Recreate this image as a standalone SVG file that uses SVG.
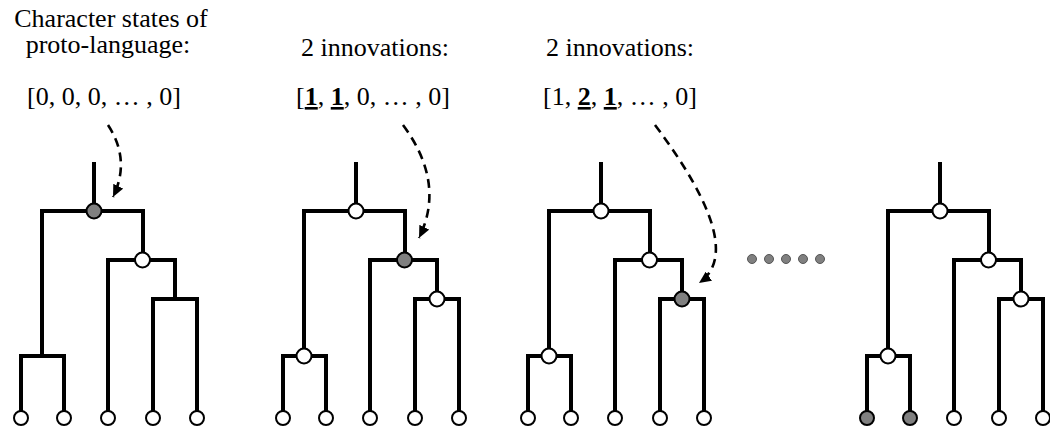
<svg xmlns="http://www.w3.org/2000/svg" width="1050" height="427" viewBox="0 0 1050 427">
<style>
text{font-family:"Liberation Serif","Times New Roman",serif;font-size:26px;fill:#000;text-anchor:middle}
.b{font-weight:bold;text-decoration:underline}
.e{fill:none;stroke:#000;stroke-width:4;stroke-linejoin:miter;stroke-linecap:butt}
.w{fill:#fff;stroke:#000;stroke-width:2}
.g{fill:#808080;stroke:#000;stroke-width:2}
.d{fill:#808080;stroke:#555;stroke-width:1}
.arr{fill:none;stroke:#000;stroke-width:2.6;stroke-dasharray:9 6}
</style>
<defs>
<marker id="ah" markerUnits="userSpaceOnUse" markerWidth="13" markerHeight="11" refX="12" refY="5.5" orient="auto">
<path d="M0,0 L12,5.5 L0,11 z" fill="#000"/>
</marker>
<path id="edges" d="M94,162 V211 M42,356 V211 H143 V260 M21,411 V356 H64 V411 M108,411 V260 H175 V299 M153,411 V299 H197 V411"/>
</defs>
<g id="labels">
<text x="111" y="27">Character states of</text>
<text x="108" y="53">proto-language:</text>
<text x="104" y="105">[0, 0, 0, … , 0]</text>
<text x="375" y="56">2 innovations:</text>
<text x="373" y="105">[<tspan class="b">1</tspan>, <tspan class="b">1</tspan>, 0, … , 0]</text>
<text x="620" y="56">2 innovations:</text>
<text x="620" y="105">[1, <tspan class="b">2</tspan>, <tspan class="b">1</tspan>, … , 0]</text>
</g>
<g id="connectors">
<use href="#edges" class="e"/>
<use href="#edges" class="e" transform="translate(262,0)"/>
<use href="#edges" class="e" transform="translate(507,0)"/>
<use href="#edges" class="e" transform="translate(846,0)"/>
<path class="arr" d="M108,125 Q131,160 113,197" marker-end="url(#ah)"/>
<path class="arr" d="M403,125 Q446,183 419,238" marker-end="url(#ah)"/>
<path class="arr" d="M655,125 Q748,249 699,283" marker-end="url(#ah)"/>
</g>
<g id="tree1">
<g id="t1-root"><circle class="g" cx="94" cy="211" r="7.5"/></g>
<g id="t1-n2"><circle class="w" cx="142.5" cy="260" r="7.5"/></g>
<g id="t1-l1"><circle class="w" cx="21" cy="418" r="7"/></g>
<g id="t1-l2"><circle class="w" cx="64" cy="418" r="7"/></g>
<g id="t1-l3"><circle class="w" cx="108" cy="418" r="7"/></g>
<g id="t1-l4"><circle class="w" cx="153" cy="418" r="7"/></g>
<g id="t1-l5"><circle class="w" cx="197" cy="418" r="7"/></g>
</g>
<g id="tree2" transform="translate(262,0)">
<g id="t2-root"><circle class="w" cx="94" cy="211" r="7.5"/></g>
<g id="t2-n2"><circle class="g" cx="142.5" cy="260" r="7.5"/></g>
<g id="t2-n3"><circle class="w" cx="175" cy="299" r="7.5"/></g>
<g id="t2-n4"><circle class="w" cx="42" cy="356" r="7.5"/></g>
<g id="t2-l1"><circle class="w" cx="21" cy="418" r="7"/></g>
<g id="t2-l2"><circle class="w" cx="64" cy="418" r="7"/></g>
<g id="t2-l3"><circle class="w" cx="108" cy="418" r="7"/></g>
<g id="t2-l4"><circle class="w" cx="153" cy="418" r="7"/></g>
<g id="t2-l5"><circle class="w" cx="197" cy="418" r="7"/></g>
</g>
<g id="tree3" transform="translate(507,0)">
<g id="t3-root"><circle class="w" cx="94" cy="211" r="7.5"/></g>
<g id="t3-n2"><circle class="w" cx="142.5" cy="260" r="7.5"/></g>
<g id="t3-n3"><circle class="g" cx="175" cy="299" r="7.5"/></g>
<g id="t3-n4"><circle class="w" cx="42" cy="356" r="7.5"/></g>
<g id="t3-l1"><circle class="w" cx="21" cy="418" r="7"/></g>
<g id="t3-l2"><circle class="w" cx="64" cy="418" r="7"/></g>
<g id="t3-l3"><circle class="w" cx="108" cy="418" r="7"/></g>
<g id="t3-l4"><circle class="w" cx="153" cy="418" r="7"/></g>
<g id="t3-l5"><circle class="w" cx="197" cy="418" r="7"/></g>
</g>
<g id="tree4" transform="translate(846,0)">
<g id="t4-root"><circle class="w" cx="94" cy="211" r="7.5"/></g>
<g id="t4-n2"><circle class="w" cx="142.5" cy="260" r="7.5"/></g>
<g id="t4-n3"><circle class="w" cx="175" cy="299" r="7.5"/></g>
<g id="t4-n4"><circle class="w" cx="42" cy="356" r="7.5"/></g>
<g id="t4-l1"><circle class="g" cx="21" cy="418" r="7"/></g>
<g id="t4-l2"><circle class="g" cx="64" cy="418" r="7"/></g>
<g id="t4-l3"><circle class="w" cx="108" cy="418" r="7"/></g>
<g id="t4-l4"><circle class="w" cx="153" cy="418" r="7"/></g>
<g id="t4-l5"><circle class="w" cx="197" cy="418" r="7"/></g>
</g>
<g id="ellipsis">
<circle class="d" cx="752" cy="259" r="4.5"/>
<circle class="d" cx="769" cy="259" r="4.5"/>
<circle class="d" cx="786" cy="259" r="4.5"/>
<circle class="d" cx="803" cy="259" r="4.5"/>
<circle class="d" cx="820" cy="259" r="4.5"/>
</g>
</svg>
